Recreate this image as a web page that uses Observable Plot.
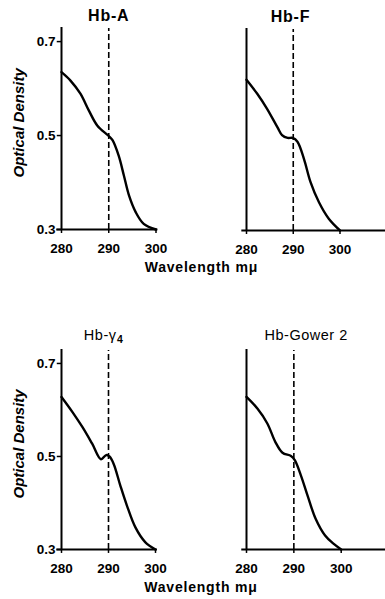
<!DOCTYPE html>
<html><head><meta charset="utf-8">
<script src="https://cdn.jsdelivr.net/npm/d3@7"></script>
<script src="https://cdn.jsdelivr.net/npm/@observablehq/plot@0.6"></script>
<style>
body{margin:0;background:#fff;}
#fig{position:relative;width:385px;height:599px;overflow:hidden;background:#fff;}
#fig svg{position:absolute;left:0;top:0;}
</style></head><body><div id="fig"></div>
<script>
// ---- data ----
const panelTitles = ["Hb-A", "Hb-F", "Hb-γ", "Hb-Gower 2"];
const panelSubscripts = ["", "", "4", ""];
const xTickValues = [280, 290, 300];
const xTickLabels = ["280", "290", "300"];
const yTickValues = [0.3, 0.5, 0.7];
const yTickLabels = ["0.3", "0.5", "0.7"];
const yAxisTitle = "Optical Density";
const xAxisTitle = "Wavelength mμ";
const markerWavelength = 290;

const hbA_wavelength = [280, 281.9, 284.0, 285.8, 287.6, 290.0, 290.8, 292.1, 293.2, 294.3, 295.7, 297.4, 300];
const hbA_density    = [0.635, 0.617, 0.589, 0.553, 0.521, 0.499, 0.490, 0.457, 0.415, 0.372, 0.337, 0.312, 0.300];

const hbF_wavelength = [280, 282.3, 284.4, 286.6, 287.6, 288.8, 289.9, 290.9, 292.3, 293.7, 295.5, 297.6, 300];
const hbF_density    = [0.621, 0.591, 0.559, 0.520, 0.503, 0.497, 0.497, 0.489, 0.452, 0.403, 0.360, 0.325, 0.300];

const hbG4_wavelength = [280, 282.3, 284.4, 286.5, 288.4, 289.5, 290.2, 291.1, 292.5, 293.9, 295.7, 297.8, 300];
const hbG4_density    = [0.628, 0.596, 0.564, 0.528, 0.494, 0.503, 0.500, 0.484, 0.438, 0.395, 0.348, 0.316, 0.300];

const gower2_wavelength = [280, 282.3, 284.4, 286.1, 287.6, 289.4, 290.2, 291.5, 292.9, 294.6, 296.6, 298.3, 300];
const gower2_density    = [0.628, 0.603, 0.571, 0.531, 0.508, 0.501, 0.492, 0.459, 0.416, 0.366, 0.330, 0.313, 0.300];

// ---- layout (pixels / placement) ----
const layout = [
  {wl: hbA_wavelength, od: hbA_density, left: true,  mL: 61,  mR: 229.5, mT: 27,  mB: 370, titleX: 290,   titleDy: -12, bold: true},
  {wl: hbF_wavelength, od: hbF_density, left: false, mL: 246, mR: 45.5,  mT: 28,  mB: 369, titleX: 289.4, titleDy: -12, bold: true},
  {wl: hbG4_wavelength, od: hbG4_density, left: true, mL: 61, mR: 230,   mT: 349, mB: 50,  titleX: 291.7, titleDy: -14, bold: false},
  {wl: gower2_wavelength, od: gower2_density, left: false, mL: 246, mR: 44.3, mT: 349, mB: 50, titleX: 292.6, titleDy: -14, bold: false}
];

const sans = "'Liberation Sans', Arial, Helvetica, sans-serif";
const fig = document.getElementById("fig");

layout.forEach((p, k) => {
  const table = p.wl.map((w, i) => ({wavelength: w, density: p.od[i]}));
  const sub = panelSubscripts[k];
  const titleFont = {fontFamily: sans, fontWeight: p.bold ? "bold" : "normal", fontSize: p.bold ? 16 : 14.5, fill: "#000"};
  const marks = [
    Plot.ruleX([280], {y1: 0.3, y2: 0.73, stroke: "#000", strokeWidth: 2}),
    Plot.ruleY([0.3], {x1: 279, x2: p.left ? 300.4 : 310, stroke: "#000", strokeWidth: 2}),
    Plot.ruleX(xTickValues, {y1: 0.3, y2: 0.2915, stroke: "#000", strokeWidth: 1.5}),
    Plot.ruleX([markerWavelength], {y1: 0.3, y2: 0.728, stroke: "#000", strokeWidth: 1.6, strokeDasharray: "6,3"}),
    Plot.line(table, {x: "wavelength", y: "density", curve: "catmull-rom", stroke: "#000", strokeWidth: 2.4}),
    Plot.text(xTickValues, {x: d => d, y: () => 0.3, dy: 19, text: (d, i) => xTickLabels[i],
      fontFamily: sans, fontWeight: "bold", fontSize: 13.5, fill: "#000"}),
    Plot.text([panelTitles[k]], {x: () => p.titleX, y: () => 0.73, dy: p.titleDy, text: d => d,
      textAnchor: sub ? "end" : "middle", ...titleFont})
  ];
  if (sub) {
    marks.push(Plot.text([sub], {x: () => p.titleX, y: () => 0.73, dy: p.titleDy + 4, dx: 0.5, text: d => d,
      textAnchor: "start", fontFamily: sans, fontSize: 10.5, fontWeight: "bold", fill: "#000"}));
  }
  if (p.left) {
    marks.push(
      Plot.ruleY(yTickValues, {x1: 279.1, x2: 280, stroke: "#000", strokeWidth: 1.5}),
      Plot.text(yTickValues, {x: () => 280, y: d => d, dx: -6, textAnchor: "end", text: (d, i) => yTickLabels[i],
        fontFamily: sans, fontWeight: "bold", fontSize: 13.5, fill: "#000"}),
      Plot.text([yAxisTitle], {x: () => 280, y: () => 0.527, dx: -42, rotate: -90, text: d => d,
        fontFamily: sans, fontWeight: "bold", fontStyle: "italic", fontSize: 15, fill: "#000"}),
      Plot.text([xAxisTitle], {x: () => 297.6, y: () => 0.3, dy: 38, textAnchor: "start", text: d => d,
        fontFamily: sans, fontWeight: "bold", fontSize: 14, fill: "#000"})
    );
  }
  const svg = Plot.plot({
    width: 385, height: 599,
    marginLeft: p.mL, marginRight: p.mR, marginTop: p.mT, marginBottom: p.mB,
    x: {domain: [280, 300], axis: null},
    y: {domain: [0.3, 0.73], axis: null},
    style: {background: "transparent", overflow: "visible"},
    marks
  });
  // letter spacing to match the wide lettering of the original
  d3.select(svg).selectAll("text")
    .filter(function() { return this.textContent === xAxisTitle; })
    .attr("letter-spacing", "0.8");
  d3.select(svg).selectAll("text")
    .filter(function() { return this.textContent === panelTitles[k]; })
    .attr("letter-spacing", p.bold ? "0.8" : "0.5");
  fig.appendChild(svg);
});
</script></body></html>
